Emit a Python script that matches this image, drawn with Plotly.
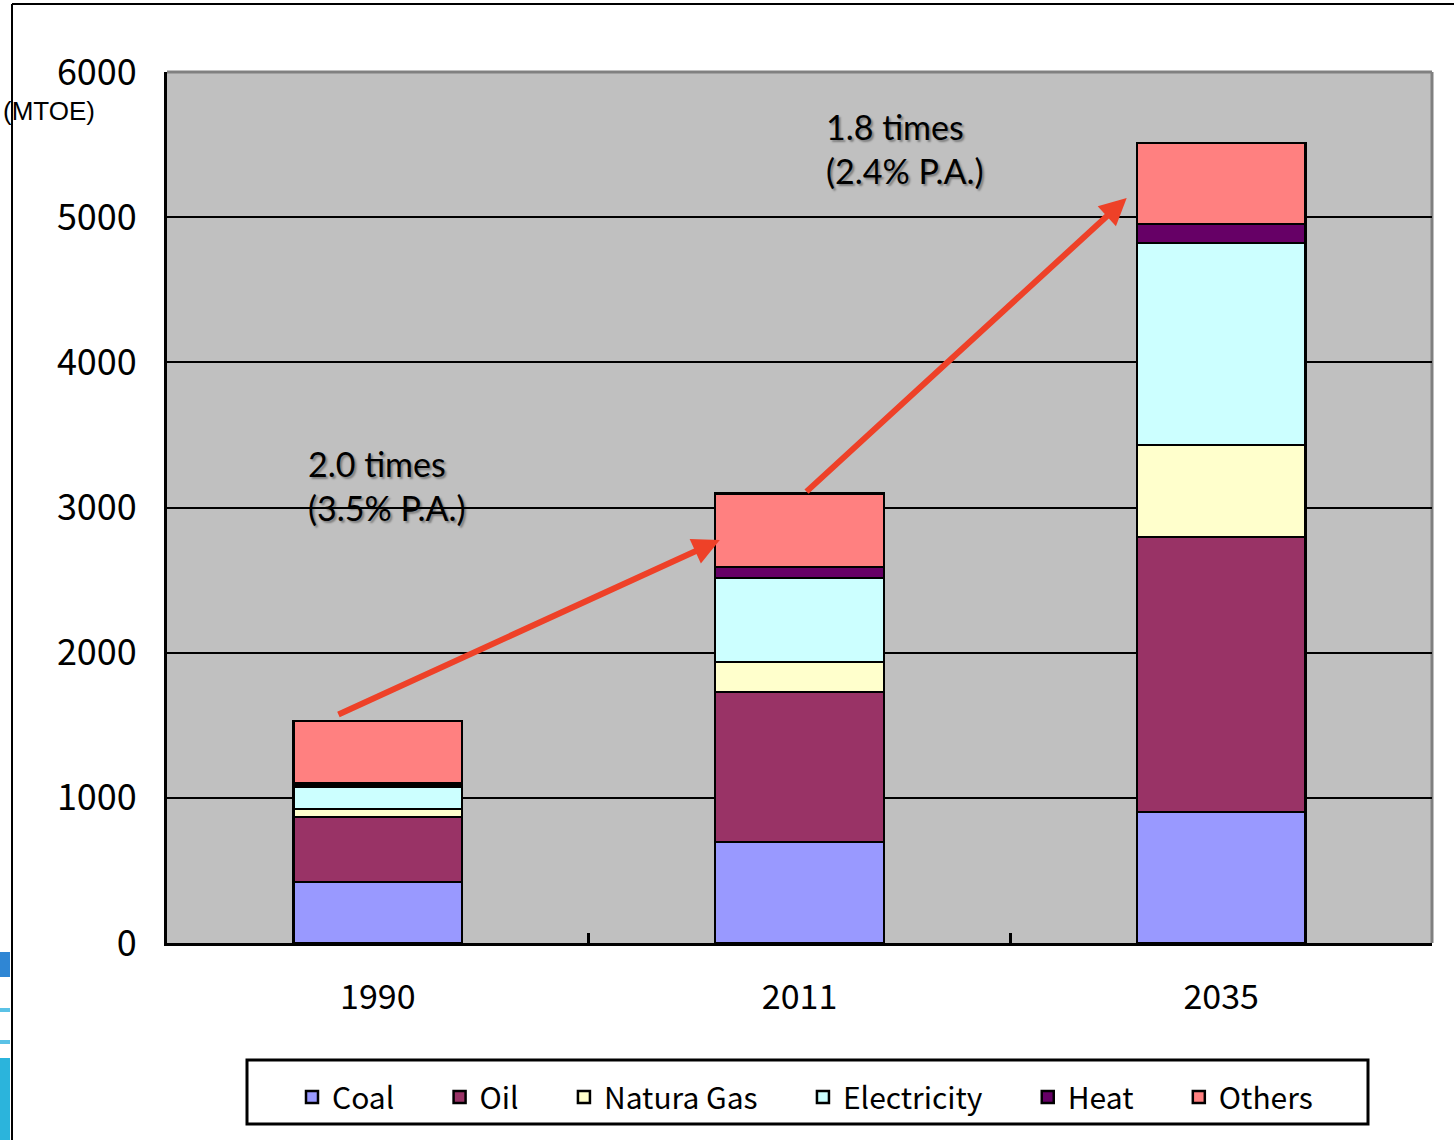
import plotly.graph_objects as go

# Final energy consumption by source (MTOE)
years = ["1990", "2011", "2035"]
coal = [420, 696, 902]
oil = [448, 1033, 1895]
natural_gas = [55, 207, 635]
electricity = [155, 578, 1390]
heat = [20, 76, 130]
others = [430, 505, 560]

series_names = ["Coal", "Oil", "Natura Gas", "Electricity", "Heat", "Others"]
series_values = [coal, oil, natural_gas, electricity, heat, others]
series_colors = ["#9999FF", "#993366", "#FFFFCC", "#CCFFFF", "#660066", "#FF8080"]

y_ticks = [0, 1000, 2000, 3000, 4000, 5000, 6000]

# Growth arrows: (tail x, tail y, head x, head y) in category index / MTOE
growth_arrows = [(-0.097, 1570, 0.811, 2776), (1.013, 3100, 1.776, 5132)]
growth_labels = ["2.0 times<br>(3.5% P.A.)", "1.8 times<br>(2.4% P.A.)"]

W, H = 1454, 1140
L, R, T, B = 167, 22, 72, 197
pw, ph = W - L - R, H - T - B


def px(x):
    return (x - L) / pw


def py(y):
    return (H - B - y) / ph


# Non-breaking padding after each legend label widens the gap between entries
pad = "\u00a0" * 6

fig = go.Figure()
for name, vals, col in zip(series_names, series_values, series_colors):
    fig.add_trace(go.Bar(
        x=years, y=vals, name=name + pad,
        marker=dict(color=col, line=dict(color="black", width=2.5)),
    ))

cjk = "Noto Sans CJK JP"

fig.update_layout(
    width=W, height=H,
    margin=dict(l=L, r=R, t=T, b=B),
    barmode="stack",
    bargap=0.6,
    paper_bgcolor="white",
    plot_bgcolor="#C0C0C0",
    showlegend=True,
    legend=dict(
        orientation="h",
        x=px(292), xanchor="left",
        y=py(1097), yanchor="middle",
        borderwidth=0,
        bgcolor="rgba(0,0,0,0)",
        font=dict(family=cjk, size=30, color="black"),
        itemwidth=30,
        traceorder="normal",
    ),
    xaxis=dict(
        type="category",
        range=[-0.5, 2.5],
        showline=True, linecolor="black", linewidth=3,
        ticks="inside", tickson="boundaries", ticklen=10, tickwidth=3, tickcolor="black",
        showgrid=False,
        tickfont=dict(family=cjk, size=34, color="black"),
        ticklabelstandoff=22,
    ),
    yaxis=dict(
        range=[0, 6000],
        tickvals=y_ticks,
        showline=True, linecolor="black", linewidth=3,
        showgrid=True, gridcolor="black", gridwidth=2,
        zeroline=False,
        ticks="",
        tickfont=dict(family=cjk, size=36, color="black"),
        ticklabelstandoff=20,
    ),
)

# Legend frame
fig.add_shape(type="rect", xref="paper", yref="paper", x0=px(247), x1=px(1368),
              y0=py(1124), y1=py(1060), line=dict(color="black", width=3), fillcolor="white",
              layer="below")

# Gray frame on the top and right of the plot area
fig.add_shape(type="line", xref="paper", yref="paper", x0=0, x1=1, y0=1, y1=1,
              line=dict(color="#808080", width=3), layer="below")
fig.add_shape(type="line", xref="paper", yref="paper", x0=1, x1=1, y0=0, y1=1,
              line=dict(color="#808080", width=3), layer="below")

# Outer chart frame (left and top edges)
fig.add_shape(type="line", xref="paper", yref="paper", x0=px(12), x1=px(12), y0=py(1140), y1=py(4),
              line=dict(color="black", width=2))
fig.add_shape(type="line", xref="paper", yref="paper", x0=px(12), x1=px(1454), y0=py(4), y1=py(4),
              line=dict(color="black", width=2))

# Slide background strips at the left edge
for y0, y1, col in [(952, 977, "#2F86D4"), (1008, 1012, "#5BC2E6"), (1040, 1044, "#5BC2E6"),
                    (1058, 1140, "#2BB4DC")]:
    fig.add_shape(type="rect", xref="paper", yref="paper", x0=px(0), x1=px(10),
                  y0=py(y1), y1=py(y0), line=dict(width=0), fillcolor=col)

# Unit label
fig.add_annotation(xref="paper", yref="paper", x=px(97), y=py(111), xanchor="right", yanchor="middle",
                   text="(MTOE)", showarrow=False,
                   font=dict(family="Liberation Sans", size=26, color="black"))

# Growth arrows
for (x0, y0, x1, y1) in growth_arrows:
    fig.add_annotation(x=x1, y=y1, ax=x0, ay=y0, xref="x", yref="y", axref="x", ayref="y",
                       text="", showarrow=True, arrowhead=2, arrowsize=0.9, arrowwidth=6,
                       arrowcolor="#EE4128", standoff=0)

# Growth labels
label_pos = [(306, 485), (824, 149)]
for (lx, ly), txt in zip(label_pos, growth_labels):
    fig.add_annotation(xref="paper", yref="paper", x=px(lx), y=py(ly), xanchor="left", yanchor="middle",
                       text=txt, showarrow=False, align="left",
                       font=dict(family="Lato", size=34, color="black",
                                 shadow="2px 2px 2px rgba(0,0,0,0.35)"))

fig.write_html("out.html")
